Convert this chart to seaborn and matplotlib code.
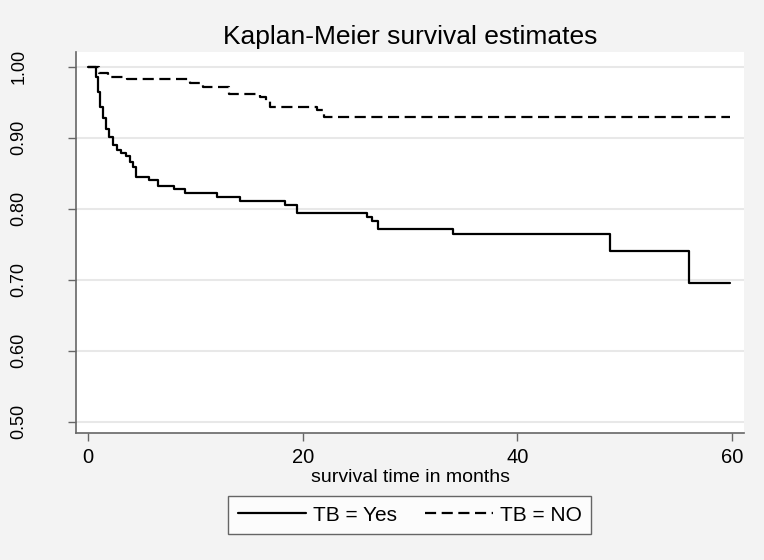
import numpy as np
import pandas as pd
import matplotlib
matplotlib.use("Agg")
import matplotlib.pyplot as plt
import seaborn as sns

# Kaplan-Meier step values
yes_time = [0, 0.75, 0.9, 1.1, 1.4, 1.7, 2.0, 2.35, 2.7, 3.05, 3.55, 3.9, 4.2,
            4.5, 5.7, 6.5, 8.0, 9.0, 12.0, 14.2, 18.4, 19.5, 26.0, 26.5, 27.0,
            34.0, 48.6, 56.0, 59.8]
yes_surv = [1.0, 0.985, 0.965, 0.944, 0.928, 0.913, 0.901, 0.890, 0.883, 0.878,
            0.874, 0.866, 0.859, 0.845, 0.840, 0.832, 0.828, 0.822, 0.816, 0.811,
            0.805, 0.794, 0.788, 0.782, 0.772, 0.764, 0.741, 0.695, 0.695]

no_time = [0, 1.0, 1.9, 3.6, 9.5, 10.7, 13.1, 16.0, 16.6, 17.0, 21.3, 22.0, 59.8]
no_surv = [1.0, 0.991, 0.986, 0.983, 0.977, 0.972, 0.962, 0.958, 0.952, 0.944,
           0.939, 0.929, 0.929]

groups = ["TB = Yes", "TB = NO"]
y_ticks = [0.5, 0.6, 0.7, 0.8, 0.9, 1.0]
x_ticks = [0, 20, 40, 60]

df = pd.concat([
    pd.DataFrame({"time": yes_time, "surv": yes_surv, "group": groups[0]}),
    pd.DataFrame({"time": no_time, "surv": no_surv, "group": groups[1]}),
])

sns.set_theme(style="white", rc={"text.color": "black", "xtick.color": "black",
                                 "ytick.color": "black",
                                 "axes.labelcolor": "black"})
bg = "#f3f3f3"
plt.rcParams["font.family"] = ["Liberation Sans", "DejaVu Sans"]

fig = plt.figure(figsize=(7.64, 5.60), dpi=100, facecolor=bg)
ax = fig.add_axes([0.0995, 0.2268, 0.8745, 0.6802])
ax.set_facecolor("white")

sns.lineplot(data=df, x="time", y="surv", style="group", style_order=groups,
             dashes={groups[0]: "", groups[1]: (5, 2.5)}, color="black",
             estimator=None, sort=False, drawstyle="steps-post", lw=1.6,
             legend=False, ax=ax)

ax.set_xlim(-1.1, 61.1)
ax.set_ylim(0.484, 1.0207)
ax.set_yticks(y_ticks)
ax.set_yticklabels([f"{v:.2f}" for v in y_ticks], rotation=90, va="center",
                   fontsize=13)
ax.set_xticks(x_ticks)
ax.set_xticklabels([str(v) for v in x_ticks], fontsize=14.5)
ax.set_ylabel("")
ax.set_xlabel("survival time in months", fontsize=14, labelpad=1)
ax.set_title("Kaplan-Meier survival estimates", fontsize=19, pad=6)

for v in y_ticks:
    ax.axhline(v, color="#e8e8e8", lw=1.5, zorder=0)

sns.despine(ax=ax)
for s in ["left", "bottom"]:
    ax.spines[s].set_color("#666666")
    ax.spines[s].set_linewidth(1.2)
ax.tick_params(axis="both", direction="out", length=6, width=1, color="#666666",
               labelcolor="black", left=True, bottom=True)
ax.tick_params(axis="y", pad=29)
ax.tick_params(axis="x", pad=5)

handles = ax.get_lines()[:2]
leg = fig.legend(handles, groups, loc="center", bbox_to_anchor=(0.536, 0.080),
                 ncol=2, frameon=True, fancybox=False, handlelength=3.3,
                 columnspacing=1.35, borderpad=0.45, handletextpad=0.3,
                 borderaxespad=0, prop={"size": 15})
leg.get_frame().set_edgecolor("#404040")
leg.get_frame().set_linewidth(1.0)

fig.savefig("out.png", dpi=100, facecolor=bg)
